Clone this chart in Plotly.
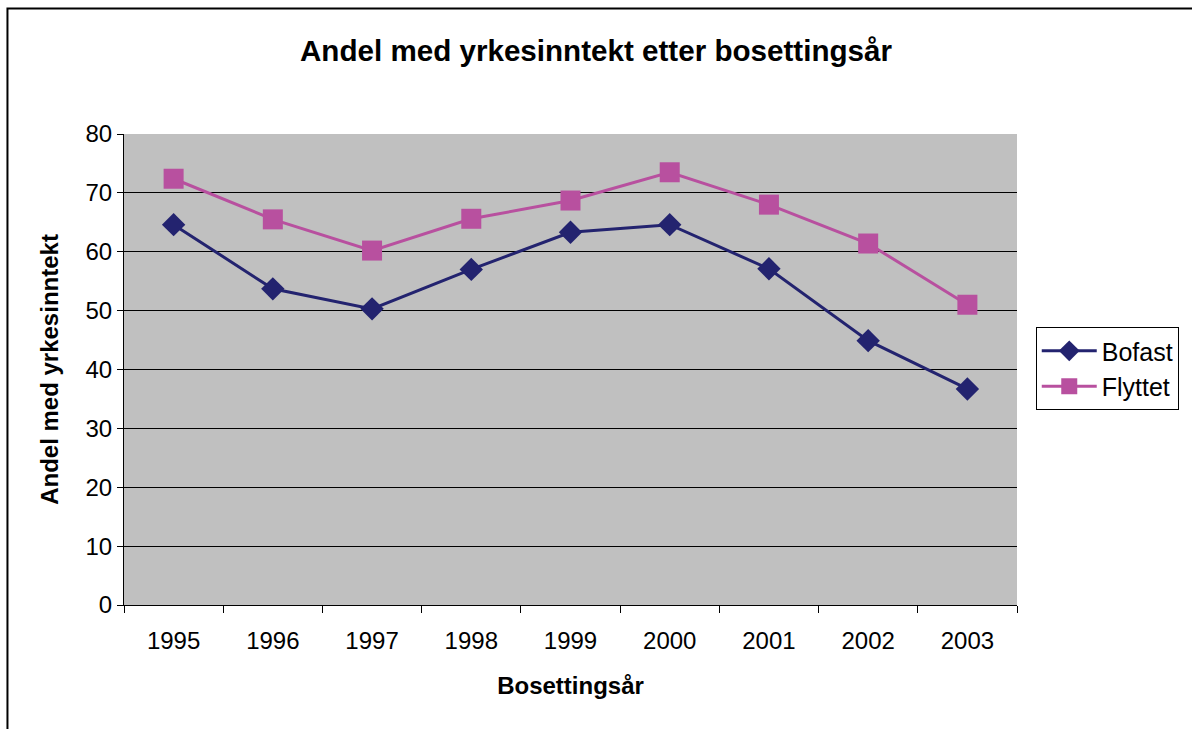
import plotly.graph_objects as go

years = ['1995', '1996', '1997', '1998', '1999', '2000', '2001', '2002', '2003']
bofast = [64.6, 53.7, 50.3, 57.0, 63.3, 64.6, 57.1, 44.9, 36.7]
flyttet = [72.4, 65.5, 60.2, 65.6, 68.7, 73.5, 68.0, 61.4, 51.0]

font = 'Liberation Sans, Arial, sans-serif'

fig = go.Figure()

fig.add_trace(go.Scatter(x=years, y=bofast, name='Bofast', mode='lines+markers',
                         line=dict(color='#23236F', width=3),
                         marker=dict(symbol='diamond', size=18, color='#23236F')))
fig.add_trace(go.Scatter(x=years, y=flyttet, name='Flyttet', mode='lines+markers',
                         line=dict(color='#B8509F', width=3),
                         marker=dict(symbol='square', size=20, color='#B8509F')))

# outer chart frame (Excel style)
fig.add_shape(type='rect', xref='paper', yref='paper',
              x0=-0.1305, x1=1.35, y0=-0.32, y1=1.2665,
              line=dict(color='black', width=2), layer='below')

fig.update_layout(
    width=1192, height=729,
    margin=dict(l=124, r=175, t=134, b=124),
    paper_bgcolor='white',
    plot_bgcolor='#C0C0C0',
    font=dict(family=font, size=24, color='black'),
    title=dict(text='<b>Andel med yrkesinntekt etter bosettingsår</b>',
               x=0.5, xanchor='center', y=0.93, yanchor='middle',
               font=dict(size=29.6)),
    showlegend=True,
    legend=dict(x=1.021, y=0.59, xanchor='left', yanchor='top',
                bordercolor='black', borderwidth=1, bgcolor='white',
                font=dict(size=25), tracegroupgap=2, itemwidth=55),
    xaxis=dict(type='category', range=[-0.5, 8.5], tickson='boundaries',
               ticks='outside', ticklen=7,
               tickcolor='black', showline=True, linecolor='black', linewidth=1,
               showgrid=False, mirror=False, ticklabelstandoff=14,
               title=dict(text='<b>Bosettingsår</b>', font=dict(size=24), standoff=24)),
    yaxis=dict(range=[0, 80], dtick=10, ticks='outside', ticklen=6, tickcolor='black',
               showline=True, linecolor='black', linewidth=1,
               showgrid=True, gridcolor='black', gridwidth=1, zeroline=False,
               title=dict(text='<b>Andel med yrkesinntekt</b>', font=dict(size=24), standoff=20)),
)

# drop the page margin so the figure fills the window without scrollbars
fig.write_html('out.html', config={'displayModeBar': False},
               post_script="document.body.style.margin='0';")
